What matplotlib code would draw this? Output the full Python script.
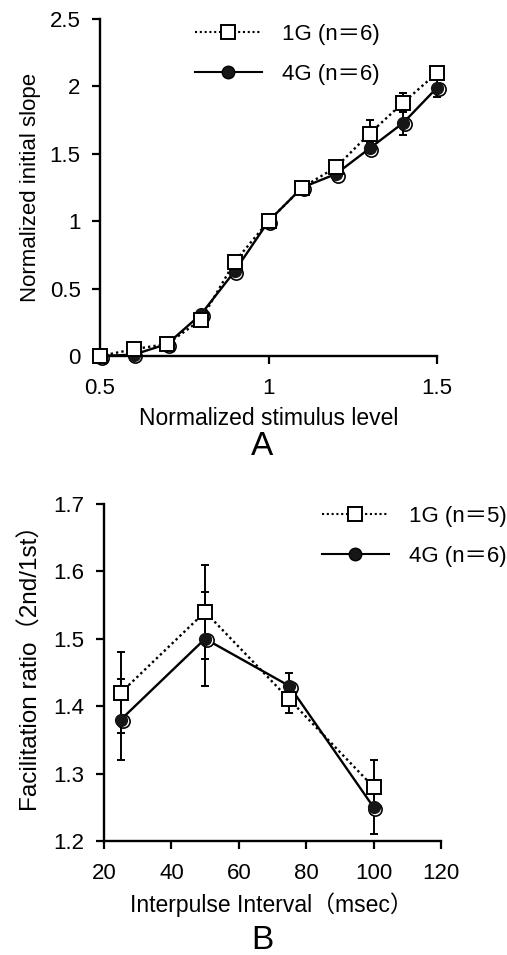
import matplotlib
matplotlib.use("Agg")
import matplotlib.pyplot as plt
from matplotlib.lines import Line2D
from matplotlib.transforms import ScaledTranslation

FONT = ["Liberation Sans", "Noto Sans CJK JP"]
plt.rcParams["font.family"] = FONT

# Panel A: input/output curves
STIM = [0.5, 0.6, 0.7, 0.8, 0.9, 1.0, 1.1, 1.2, 1.3, 1.4, 1.5]
SLOPE_1G = [0.0, 0.05, 0.09, 0.27, 0.70, 1.0, 1.25, 1.40, 1.65, 1.88, 2.10]
SLOPE_1G_SE = [0.0, 0.01, 0.01, 0.02, 0.03, 0.0, 0.02, 0.03, 0.10, 0.07, 0.03]
SLOPE_4G = [0.0, 0.01, 0.09, 0.31, 0.63, 1.0, 1.25, 1.35, 1.54, 1.73, 1.99]
SLOPE_4G_SE = [0.0, 0.01, 0.01, 0.02, 0.03, 0.0, 0.02, 0.03, 0.04, 0.09, 0.07]
LABEL_A_1G = "1G (n＝6)"
LABEL_A_4G = "4G (n＝6)"

# Panel B: paired-pulse facilitation
IPI = [25, 50, 75, 100]
PPF_1G = [1.42, 1.54, 1.41, 1.28]
PPF_1G_SE = [0.06, 0.07, 0.02, 0.04]
PPF_4G = [1.38, 1.50, 1.43, 1.25]
PPF_4G_SE = [0.06, 0.07, 0.02, 0.04]
LABEL_B_1G = "1G (n＝5)"
LABEL_B_4G = "4G (n＝6)"

W, H = 507, 955
fig = plt.figure(figsize=(W / 100, H / 100), dpi=100)

DOT = (0, (1, 1.3))


def px_axes(left, right, top, bottom):
    return fig.add_axes([left / W, 1 - bottom / H, (right - left) / W, (bottom - top) / H])


def style(ax):
    for s in ("top", "right"):
        ax.spines[s].set_visible(False)
    for s in ("left", "bottom"):
        ax.spines[s].set_linewidth(1.7)
    ax.tick_params(direction="out", length=6, width=1.6, labelsize=16)
    ax.tick_params(axis="x", pad=10)
    ax.tick_params(axis="y", pad=8)


def draw_series(ax, x, y4, e4, y1, e1):
    ax.errorbar(x, y4, yerr=e4, fmt="none", ecolor="black", capsize=3,
                elinewidth=1.4, capthick=1.4, clip_on=False, zorder=2)
    ax.errorbar(x, y1, yerr=e1, fmt="none", ecolor="black", capsize=3,
                elinewidth=1.4, capthick=1.4, clip_on=False, zorder=2)
    ax.plot(x, y4, color="black", lw=1.7, ls="-", clip_on=False, zorder=3)
    # 4G marker: shaded circle with a light crescent (as in the print)
    off = ScaledTranslation(1.2 / 72, -1.2 / 72, fig.dpi_scale_trans)
    ax.plot(x, y4, ls="none", marker="o", ms=9.5, mfc="white", mec="black",
            mew=1.2, transform=ax.transData + off, clip_on=False, zorder=3.5)
    ax.plot(x, y4, ls="none", marker="o", ms=8.5, mfc="#161616", mec="#161616",
            clip_on=False, zorder=3.6)
    ax.plot(x, y1, color="black", lw=1.7, ls=DOT, marker="s", ms=10,
            mfc="white", mec="black", mew=1.4, clip_on=False, zorder=4)


def legend(ax, lab1, lab4, anchor):
    h1 = Line2D([], [], color="black", lw=1.5, ls=DOT, marker="s", ms=10,
                mfc="white", mec="black", mew=1.4)
    h4 = Line2D([], [], color="black", lw=1.5, ls="-", marker="o", ms=9,
                mfc="#161616", mec="black")
    ax.legend([h1, h4], [lab1, lab4], loc="upper left", bbox_to_anchor=anchor,
              frameon=False, prop={"family": FONT, "size": 16},
              handlelength=3.0, handletextpad=0.9, labelspacing=0.85,
              borderpad=0, borderaxespad=0)


# ---- Panel A ----
axA = px_axes(100, 437, 19, 356)
style(axA)
draw_series(axA, STIM, SLOPE_4G, SLOPE_4G_SE, SLOPE_1G, SLOPE_1G_SE)
axA.set_xlim(0.5, 1.5)
axA.set_ylim(0, 2.5)
axA.set_xticks([0.5, 1, 1.5])
axA.set_xticklabels(["0.5", "1", "1.5"])
axA.set_yticks([0, 0.5, 1, 1.5, 2, 2.5])
axA.set_yticklabels(["0", "0.5", "1", "1.5", "2", "2.5"])
axA.set_xlabel("Normalized stimulus level", fontsize=16.5, va="center")
axA.xaxis.set_label_coords(0.5, -0.184)
axA.set_ylabel("Normalized initial slope", fontsize=16, va="center")
axA.yaxis.set_label_coords(-0.205, 0.5)
legend(axA, LABEL_A_1G, LABEL_A_4G, (0.282, 0.985))
fig.text(262 / W, 1 - 446 / H, "A", fontsize=24, ha="center", va="center")

# ---- Panel B ----
axB = px_axes(104, 441, 504, 841)
style(axB)
draw_series(axB, IPI, PPF_4G, PPF_4G_SE, PPF_1G, PPF_1G_SE)
axB.set_xlim(20, 120)
axB.set_ylim(1.2, 1.7)
axB.set_xticks([20, 40, 60, 80, 100, 120])
axB.set_yticks([1.2, 1.3, 1.4, 1.5, 1.6, 1.7])
axB.set_xlabel("Interpulse Interval（msec）", fontsize=16.5, va="center")
axB.xaxis.set_label_coords(0.498, -0.19)
axB.set_ylabel("Facilitation ratio（2nd/1st）", fontsize=17.5, va="center")
axB.yaxis.set_label_coords(-0.215, 0.531)
legend(axB, LABEL_B_1G, LABEL_B_4G, (0.647, 0.994))
fig.text(262 / W, 1 - 940 / H, "B", fontsize=24, ha="center", va="center")

fig.savefig("out.png", dpi=100)
